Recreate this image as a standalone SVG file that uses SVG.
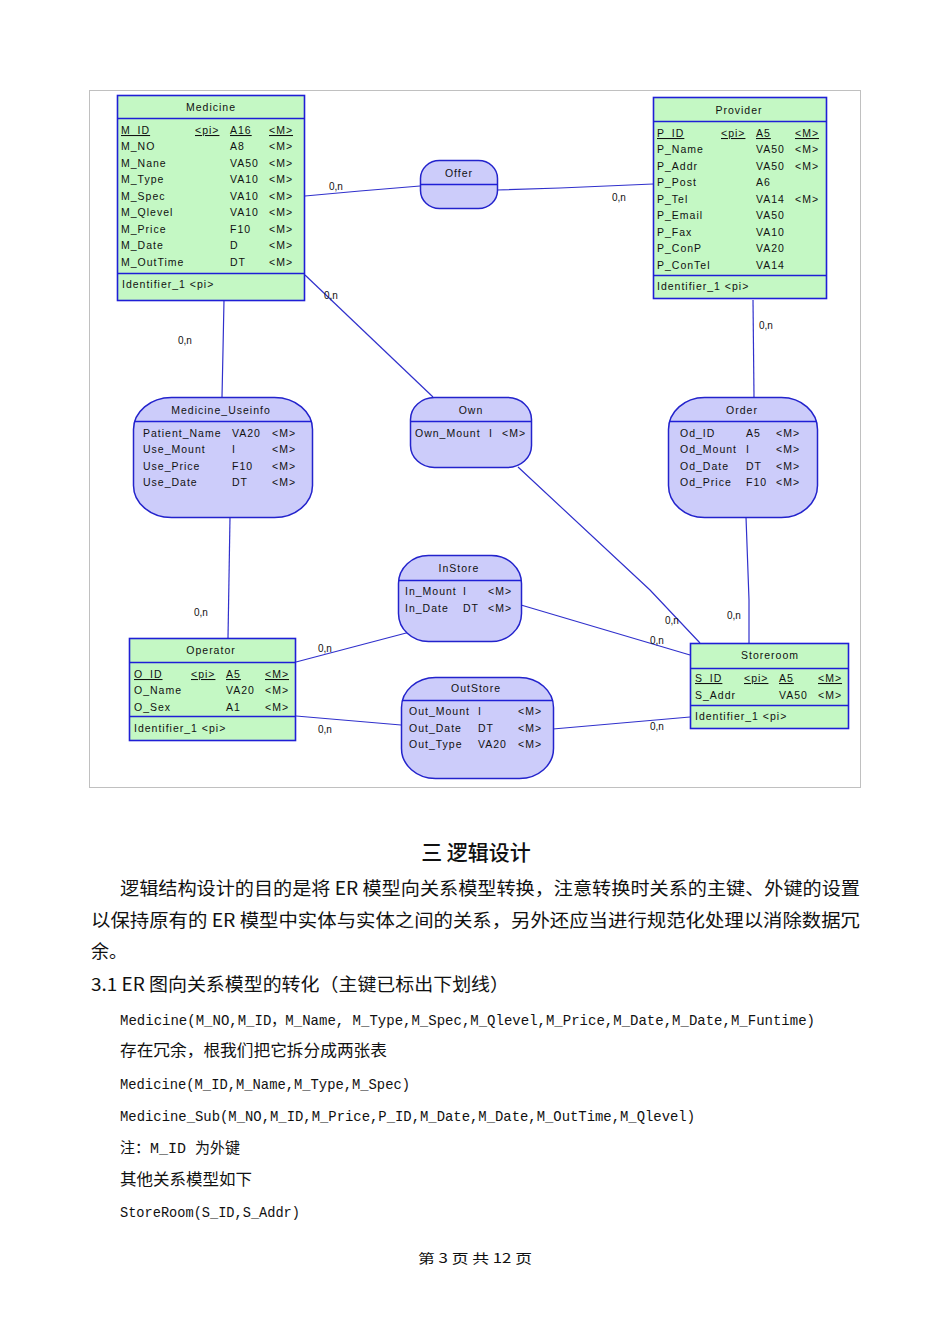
<svg xmlns="http://www.w3.org/2000/svg" width="950" height="1344" viewBox="0 0 950 1344">
<style>
.ent{fill:#c4f8c4;stroke:#1f1fd6;stroke-width:1.6}
.rel{fill:#ccccfa;stroke:#2323cc;stroke-width:1.5}
.sep{stroke:#1f1fd6;stroke-width:1.5}
.t{font-family:"Liberation Sans",Arial,sans-serif;font-size:10.5px;letter-spacing:1px;fill:#111}
.h{text-anchor:middle}
.u{text-decoration:underline}
.cn{stroke:#3030cc;stroke-width:1.2;fill:none}
.lb{font-family:"Liberation Sans",Arial,sans-serif;font-size:10px;fill:#111}
.zh{font-family:"Noto Sans CJK SC","Liberation Serif",serif;fill:#111}
.mono{font-family:"Liberation Mono","Noto Sans CJK SC",monospace;font-size:15px;fill:#111}
</style>
<rect x="0" y="0" width="950" height="1344" fill="#fff"/>
<rect x="89.5" y="90.5" width="771" height="697" fill="none" stroke="#c0c0c0" stroke-width="1"/>

<g id="connectors">
<polyline class="cn" points="305,196 360,191 420,186"/><text class="lb" x="329" y="190">0,n</text>
<polyline class="cn" points="497,190 560,188 653,184"/><text class="lb" x="612" y="201">0,n</text>
<polyline class="cn" points="305,275 433,397"/><text class="lb" x="324" y="299">0,n</text>
<polyline class="cn" points="224,300 223,350 222,397"/><text class="lb" x="178" y="344">0,n</text>
<polyline class="cn" points="753,300 754,397"/><text class="lb" x="759" y="329">0,n</text>
<polyline class="cn" points="230,517 228,638"/><text class="lb" x="194" y="616">0,n</text>
<polyline class="cn" points="518,467 650,590 700,643"/><text class="lb" x="665" y="624">0,n</text>
<polyline class="cn" points="746,517 749,600 749,643"/><text class="lb" x="727" y="619">0,n</text>
<polyline class="cn" points="521,605 690,655"/><text class="lb" x="650" y="644">0,n</text>
<polyline class="cn" points="296,662 410,632"/><text class="lb" x="318" y="652">0,n</text>
<polyline class="cn" points="296,716 401,725"/><text class="lb" x="318" y="733">0,n</text>
<polyline class="cn" points="553,729 690,717"/><text class="lb" x="650" y="730">0,n</text>
</g>

<g id="Medicine">
<rect class="ent" x="117.5" y="95.5" width="187" height="205"/>
<line class="sep" x1="117.5" y1="118.5" x2="304.5" y2="118.5"/>
<line class="sep" x1="117.5" y1="273.5" x2="304.5" y2="273.5"/>
<text class="t h" x="211" y="111">Medicine</text>
<text class="t"><tspan class="u" x="121" y="134">M_ID</tspan><tspan class="u" x="195" y="134">&lt;pi&gt;</tspan><tspan class="u" x="230" y="134">A16</tspan><tspan class="u" x="269" y="134">&lt;M&gt;</tspan></text>
<text class="t"><tspan x="121" y="150">M_NO</tspan><tspan x="230" y="150">A8</tspan><tspan x="269" y="150">&lt;M&gt;</tspan></text>
<text class="t"><tspan x="121" y="167">M_Nane</tspan><tspan x="230" y="167">VA50</tspan><tspan x="269" y="167">&lt;M&gt;</tspan></text>
<text class="t"><tspan x="121" y="183">M_Type</tspan><tspan x="230" y="183">VA10</tspan><tspan x="269" y="183">&lt;M&gt;</tspan></text>
<text class="t"><tspan x="121" y="200">M_Spec</tspan><tspan x="230" y="200">VA10</tspan><tspan x="269" y="200">&lt;M&gt;</tspan></text>
<text class="t"><tspan x="121" y="216">M_Qlevel</tspan><tspan x="230" y="216">VA10</tspan><tspan x="269" y="216">&lt;M&gt;</tspan></text>
<text class="t"><tspan x="121" y="233">M_Price</tspan><tspan x="230" y="233">F10</tspan><tspan x="269" y="233">&lt;M&gt;</tspan></text>
<text class="t"><tspan x="121" y="249">M_Date</tspan><tspan x="230" y="249">D</tspan><tspan x="269" y="249">&lt;M&gt;</tspan></text>
<text class="t"><tspan x="121" y="266">M_OutTime</tspan><tspan x="230" y="266">DT</tspan><tspan x="269" y="266">&lt;M&gt;</tspan></text>
<text class="t" x="122" y="288">Identifier_1  &lt;pi&gt;</text>
</g>

<g id="Provider">
<rect class="ent" x="653.5" y="97.5" width="173" height="201"/>
<line class="sep" x1="653.5" y1="121.5" x2="826.5" y2="121.5"/>
<line class="sep" x1="653.5" y1="275.5" x2="826.5" y2="275.5"/>
<text class="t h" x="739" y="114">Provider</text>
<text class="t"><tspan class="u" x="657" y="137">P_ID</tspan><tspan class="u" x="721" y="137">&lt;pi&gt;</tspan><tspan class="u" x="756" y="137">A5</tspan><tspan class="u" x="795" y="137">&lt;M&gt;</tspan></text>
<text class="t"><tspan x="657" y="153">P_Name</tspan><tspan x="756" y="153">VA50</tspan><tspan x="795" y="153">&lt;M&gt;</tspan></text>
<text class="t"><tspan x="657" y="170">P_Addr</tspan><tspan x="756" y="170">VA50</tspan><tspan x="795" y="170">&lt;M&gt;</tspan></text>
<text class="t"><tspan x="657" y="186">P_Post</tspan><tspan x="756" y="186">A6</tspan></text>
<text class="t"><tspan x="657" y="203">P_Tel</tspan><tspan x="756" y="203">VA14</tspan><tspan x="795" y="203">&lt;M&gt;</tspan></text>
<text class="t"><tspan x="657" y="219">P_Email</tspan><tspan x="756" y="219">VA50</tspan></text>
<text class="t"><tspan x="657" y="236">P_Fax</tspan><tspan x="756" y="236">VA10</tspan></text>
<text class="t"><tspan x="657" y="252">P_ConP</tspan><tspan x="756" y="252">VA20</tspan></text>
<text class="t"><tspan x="657" y="269">P_ConTel</tspan><tspan x="756" y="269">VA14</tspan></text>
<text class="t" x="657" y="290">Identifier_1  &lt;pi&gt;</text>
</g>

<g id="Offer">
<rect class="rel" x="420.5" y="160.5" width="77" height="48" rx="19" ry="18"/>
<line class="sep" x1="420.5" y1="184.5" x2="497.5" y2="184.5"/>
<text class="t h" x="459" y="177">Offer</text>
</g>

<g id="Medicine_Useinfo">
<rect class="rel" x="133.5" y="397.5" width="179" height="120" rx="38" ry="32"/>
<line class="sep" x1="134" y1="421.5" x2="312" y2="421.5"/>
<text class="t h" x="221" y="414">Medicine_Useinfo</text>
<text class="t"><tspan x="143" y="437">Patient_Name</tspan><tspan x="232" y="437">VA20</tspan><tspan x="272" y="437">&lt;M&gt;</tspan></text>
<text class="t"><tspan x="143" y="453">Use_Mount</tspan><tspan x="232" y="453">I</tspan><tspan x="272" y="453">&lt;M&gt;</tspan></text>
<text class="t"><tspan x="143" y="470">Use_Price</tspan><tspan x="232" y="470">F10</tspan><tspan x="272" y="470">&lt;M&gt;</tspan></text>
<text class="t"><tspan x="143" y="486">Use_Date</tspan><tspan x="232" y="486">DT</tspan><tspan x="272" y="486">&lt;M&gt;</tspan></text>
</g>

<g id="Own">
<rect class="rel" x="410.5" y="397.5" width="121" height="70" rx="24" ry="22"/>
<line class="sep" x1="411" y1="421.5" x2="531" y2="421.5"/>
<text class="t h" x="471" y="414">Own</text>
<text class="t"><tspan x="415" y="437">Own_Mount</tspan><tspan x="489" y="437">I</tspan><tspan x="502" y="437">&lt;M&gt;</tspan></text>
</g>

<g id="Order">
<rect class="rel" x="668.5" y="397.5" width="149" height="120" rx="36" ry="32"/>
<line class="sep" x1="669" y1="421.5" x2="817" y2="421.5"/>
<text class="t h" x="742" y="414">Order</text>
<text class="t"><tspan x="680" y="437">Od_ID</tspan><tspan x="746" y="437">A5</tspan><tspan x="776" y="437">&lt;M&gt;</tspan></text>
<text class="t"><tspan x="680" y="453">Od_Mount</tspan><tspan x="746" y="453">I</tspan><tspan x="776" y="453">&lt;M&gt;</tspan></text>
<text class="t"><tspan x="680" y="470">Od_Date</tspan><tspan x="746" y="470">DT</tspan><tspan x="776" y="470">&lt;M&gt;</tspan></text>
<text class="t"><tspan x="680" y="486">Od_Price</tspan><tspan x="746" y="486">F10</tspan><tspan x="776" y="486">&lt;M&gt;</tspan></text>
</g>

<g id="InStore">
<rect class="rel" x="398.5" y="555.5" width="123" height="86" rx="30" ry="28"/>
<line class="sep" x1="399" y1="580.5" x2="521" y2="580.5"/>
<text class="t h" x="459" y="572">InStore</text>
<text class="t"><tspan x="405" y="595">In_Mount</tspan><tspan x="463" y="595">I</tspan><tspan x="488" y="595">&lt;M&gt;</tspan></text>
<text class="t"><tspan x="405" y="612">In_Date</tspan><tspan x="463" y="612">DT</tspan><tspan x="488" y="612">&lt;M&gt;</tspan></text>
</g>

<g id="Operator">
<rect class="ent" x="129.5" y="638.5" width="166" height="102"/>
<line class="sep" x1="129.5" y1="662.5" x2="295.5" y2="662.5"/>
<line class="sep" x1="129.5" y1="716.5" x2="295.5" y2="716.5"/>
<text class="t h" x="211" y="654">Operator</text>
<text class="t"><tspan class="u" x="134" y="678">O_ID</tspan><tspan class="u" x="191" y="678">&lt;pi&gt;</tspan><tspan class="u" x="226" y="678">A5</tspan><tspan class="u" x="265" y="678">&lt;M&gt;</tspan></text>
<text class="t"><tspan x="134" y="694">O_Name</tspan><tspan x="226" y="694">VA20</tspan><tspan x="265" y="694">&lt;M&gt;</tspan></text>
<text class="t"><tspan x="134" y="711">O_Sex</tspan><tspan x="226" y="711">A1</tspan><tspan x="265" y="711">&lt;M&gt;</tspan></text>
<text class="t" x="134" y="732">Identifier_1  &lt;pi&gt;</text>
</g>

<g id="OutStore">
<rect class="rel" x="401.5" y="677.5" width="152" height="101" rx="34" ry="30"/>
<line class="sep" x1="402" y1="700.5" x2="553" y2="700.5"/>
<text class="t h" x="476" y="692">OutStore</text>
<text class="t"><tspan x="409" y="715">Out_Mount</tspan><tspan x="478" y="715">I</tspan><tspan x="518" y="715">&lt;M&gt;</tspan></text>
<text class="t"><tspan x="409" y="732">Out_Date</tspan><tspan x="478" y="732">DT</tspan><tspan x="518" y="732">&lt;M&gt;</tspan></text>
<text class="t"><tspan x="409" y="748">Out_Type</tspan><tspan x="478" y="748">VA20</tspan><tspan x="518" y="748">&lt;M&gt;</tspan></text>
</g>

<g id="Storeroom">
<rect class="ent" x="690.5" y="643.5" width="158" height="85"/>
<line class="sep" x1="690.5" y1="668.5" x2="848.5" y2="668.5"/>
<line class="sep" x1="690.5" y1="705.5" x2="848.5" y2="705.5"/>
<text class="t h" x="770" y="659">Storeroom</text>
<text class="t"><tspan class="u" x="695" y="682">S_ID</tspan><tspan class="u" x="744" y="682">&lt;pi&gt;</tspan><tspan class="u" x="779" y="682">A5</tspan><tspan class="u" x="818" y="682">&lt;M&gt;</tspan></text>
<text class="t"><tspan x="695" y="699">S_Addr</tspan><tspan x="779" y="699">VA50</tspan><tspan x="818" y="699">&lt;M&gt;</tspan></text>
<text class="t" x="695" y="720">Identifier_1  &lt;pi&gt;</text>
</g>

<g id="body">
<text class="zh" x="476" y="860" font-size="21" font-weight="500" text-anchor="middle">三  逻辑设计</text>
<text class="zh" x="120" y="895" font-size="18" textLength="740" lengthAdjust="spacingAndGlyphs">逻辑结构设计的目的是将 ER 模型向关系模型转换，注意转换时关系的主键、外键的设置</text>
<text class="zh" x="91" y="927" font-size="18" textLength="769" lengthAdjust="spacingAndGlyphs">以保持原有的 ER 模型中实体与实体之间的关系，另外还应当进行规范化处理以消除数据冗</text>
<text class="zh" x="91" y="958" font-size="18">余。</text>
<text class="zh" x="91" y="991" font-size="18" textLength="418" lengthAdjust="spacingAndGlyphs">3.1 ER 图向关系模型的转化（主键已标出下划线）</text>
<text class="mono" x="120" y="1025" textLength="695" lengthAdjust="spacingAndGlyphs">Medicine(M_NO,M_ID，M_Name, M_Type,M_Spec,M_Qlevel,M_Price,M_Date,M_Date,M_Funtime)</text>
<text class="zh" x="120" y="1056" font-size="16" textLength="267" lengthAdjust="spacingAndGlyphs">存在冗余，根我们把它拆分成两张表</text>
<text class="mono" x="120" y="1089" textLength="290" lengthAdjust="spacingAndGlyphs">Medicine(M_ID,M_Name,M_Type,M_Spec)</text>
<text class="mono" x="120" y="1121" textLength="575" lengthAdjust="spacingAndGlyphs">Medicine_Sub(M_NO,M_ID,M_Price,P_ID,M_Date,M_Date,M_OutTime,M_Qlevel)</text>
<text class="mono" x="120" y="1153" textLength="120" lengthAdjust="spacingAndGlyphs">注：M_ID 为外键</text>
<text class="zh" x="120" y="1185" font-size="16" textLength="132" lengthAdjust="spacingAndGlyphs">其他关系模型如下</text>
<text class="mono" x="120" y="1217" textLength="180" lengthAdjust="spacingAndGlyphs">StoreRoom(S_ID,S_Addr)</text>
<text class="zh" x="475" y="1263" font-size="13" text-anchor="middle" textLength="114" lengthAdjust="spacingAndGlyphs">第 3 页 共 12 页</text>
</g>
</svg>
